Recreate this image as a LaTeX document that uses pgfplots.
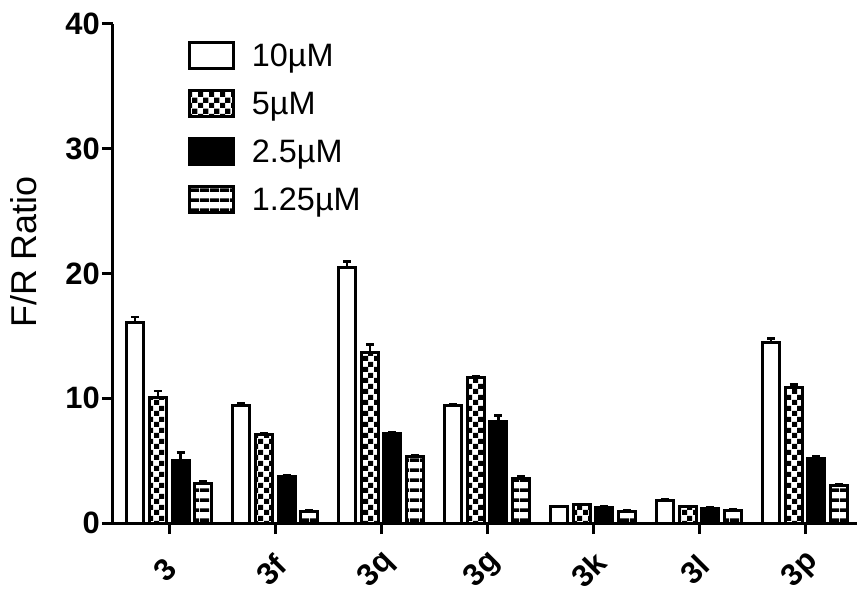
\documentclass[border=0pt]{standalone}
\usepackage{fontspec}
\setmainfont{Liberation Sans}
\usepackage{pgfplots}
\pgfplotsset{compat=1.18}
\usetikzlibrary{patterns}

\pgfdeclarepatternformonly{mycheck}{\pgfqpoint{0bp}{0bp}}{\pgfqpoint{11bp}{11bp}}{\pgfqpoint{11bp}{11bp}}{%
 \pgfpathrectangle{\pgfqpoint{0bp}{0bp}}{\pgfqpoint{5.5bp}{5.5bp}}%
 \pgfpathrectangle{\pgfqpoint{5.5bp}{5.5bp}}{\pgfqpoint{5.5bp}{5.5bp}}%
 \pgfusepath{fill}}
\pgfdeclarepatternformonly{myhlines}{\pgfqpoint{0bp}{0bp}}{\pgfqpoint{10bp}{10bp}}{\pgfqpoint{10bp}{10bp}}{%
 \pgfpathrectangle{\pgfqpoint{0bp}{0bp}}{\pgfqpoint{10bp}{4bp}}%
 \pgfusepath{fill}}

\pgfplotstableread{
x y e
0 16.1 0.4
1 9.45 0.15
2 20.5 0.45
3 9.45 0.05
4 1.3 0.05
5 1.84 0.05
6 14.5 0.3
}\tA
\pgfplotstableread{
x y e
0 10.1 0.5
1 7.1 0.1
2 13.7 0.6
3 11.65 0.1
4 1.45 0.08
5 1.3 0.08
6 10.9 0.2
}\tB
\pgfplotstableread{
x y e
0 5.05 0.6
1 3.7 0.1
2 7.2 0.1
3 8.1 0.5
4 1.25 0.08
5 1.17 0.08
6 5.2 0.15
}\tC
\pgfplotstableread{
x y e
0 3.2 0.15
1 0.96 0.1
2 5.37 0.1
3 3.58 0.2
4 0.95 0.08
5 0.99 0.08
6 2.97 0.15
}\tD

\begin{document}
\begin{tikzpicture}
\begin{axis}[
  scale only axis, width=744bp, height=499bp,
  xmin=-0.53, xmax=6.49, ymin=0, ymax=40,
  axis lines*=left,
  axis line style={line width=3bp},
  ytick={0,10,20,30,40},
  xtick={0,...,6}, xticklabels={3,3f,3q,3g,3k,3l,3p},
  tick style={line width=3bp, black},
  major tick length=11bp, tick align=outside,
  /pgf/number format/assume math mode=true,
  tick label style={font=\fontsize{31}{36}\selectfont\bfseries},
  xticklabel style={yshift=-36bp, xshift=-4bp, rotate=45, anchor=center, inner sep=0bp},
  yticklabel style={inner sep=2bp},
  ylabel={F/R Ratio},
  ylabel style={font=\fontsize{36}{42}\selectfont, at={(rel axis cs:-0.1196,0.543)}, anchor=center},
  ybar=5.7bp, bar width=17bp,
  every axis plot/.append style={draw=black, line width=3bp},
  error bars/y dir=plus, error bars/y explicit,
  error bars/error bar style={line width=2.5bp, black},
  error bars/error mark options={rotate=90, mark size=4bp, line width=2.5bp, black},
  legend image code/.code={\draw[#1, line width=3bp] (0bp,-13bp) rectangle (44bp,13bp);},
  legend style={draw=none, fill=none, inner sep=0pt, outer sep=0pt,
    at={(rel axis cs:0.1008,0.965)}, anchor=north west,
    font=\fontsize{32.5}{38}\selectfont, row sep=19bp,
    nodes={inner sep=0pt},
    /tikz/every odd column/.append style={column sep=17bp}},
  legend cell align=left,
]
\addplot[fill=white] table[x=x,y=y,y error=e] {\tA};
\addplot[pattern=mycheck] table[x=x,y=y,y error=e] {\tB};
\addplot[fill=black] table[x=x,y=y,y error=e] {\tC};
\addplot[pattern=myhlines] table[x=x,y=y,y error=e] {\tD};
\legend{10µM,5µM,2.5µM,1.25µM}
\coordinate (o) at (rel axis cs:0,0);
\coordinate (ne) at (rel axis cs:1,1);
\end{axis}
\pgfresetboundingbox
\path ([shift={(-113bp,-69bp)}]o) rectangle ([shift={(0bp,24bp)}]ne);
\end{tikzpicture}
\end{document}
